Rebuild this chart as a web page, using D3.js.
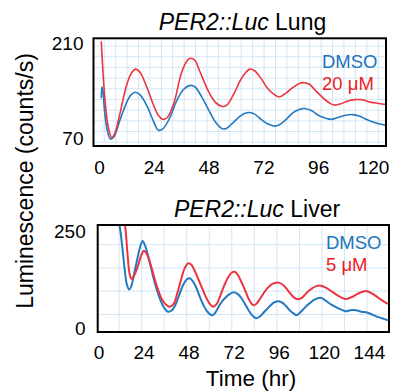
<!DOCTYPE html>
<html>
<head>
<meta charset="utf-8">
<script src="https://cdn.jsdelivr.net/npm/d3@7"></script>
<style>
  html, body { margin: 0; padding: 0; background: #fff; }
  svg { display: block; font-family: "Liberation Sans", Arial, sans-serif; }
</style>
</head>
<body>
<svg id="chart" width="395" height="392"></svg>
<script>
// ---------------- DATA ----------------
// Lung panel: [time (hr), luminescence (counts/s)]
const lungDMSO = [
  [1,129],[1.3,146],[1.8,137],[2.5,108],[3.5,84],[5,69],[6.5,72],[9,95],[12,122],[14,134],[16,138],
  [18,134],[21,118],[24,94],[26,82],[28,84],[31,100],[34,125],[37,142],[40,148],[42,146],[45,131],
  [48,112],[51,94],[54,84],[56,85],[59,94],[62,103],[64,107],[66,108],[68,106],[71,98],[74,91],
  [77,88],[79,90],[82,98],[85,108],[88,113],[90,114],[93,111],[96,104],[99,100],[102,98],[105,101],
  [108,104],[111,105],[114,103],[117,98],[120,94],[123,91],[125.7,89]
];
const lung20uM = [
  [1,213],[1.5,182],[2.5,132],[4,88],[5.6,71],[7,78],[9,104],[12,147],[14,165],[16,172],[18,167],
  [21,145],[24,118],[26,104],[28,98],[30,101],[33,124],[36,165],[38.5,184],[40,188],[42,185],[44,170],
  [48,139],[51,123],[54,117],[56,119],[59,135],[62,156],[64,166],[66,172],[68,170],[71,158],[74,143],
  [77,134],[79,131],[82,137],[85,145],[88,151],[90,152],[92,150],[95,140],[98,130],[101,122],[103,119],
  [106,121],[109,125],[112,127],[115,127],[118,124],[121,122],[124,120.5],[125.7,120]
];
// Liver panel
const liverDMSO = [
  [9,330],[10,300],[11,272],[12,238],[13,195],[14,150],[15,115],[16.3,99],[17.5,108],[19,140],[21,185],
  [22.5,214],[23.5,224],[25,210],[27,175],[29,135],[31,100],[33,72],[35,52],[37,42],[39,45],[41,60],
  [43,85],[45,110],[47,125],[48.5,128],[50,122],[52,105],[54,80],[56,58],[58,42],[60.5,33],[62,38],
  [64,55],[66,70],[68,80],[70,88],[72,92],[74,88],[76,78],[78,62],[80,45],[82,32],[84,25],[86,30],
  [88,40],[90,50],[92,60],[94,67],[96,69],[98,65],[100,56],[102,45],[104,37],[105.5,33],[107,38],
  [109,48],[111,58],[113,66],[115,73],[118,78],[120,74],[122,67],[124,60],[126,55],[128,50],[130,46],
  [132,43],[134,46],[137,46],[140,42],[143,40],[146,34],[149,28],[151,25],[153.5,21],[155,20]
];
const liver5uM = [
  [12.5,330],[13.5,290],[14.5,250],[15.5,190],[16.5,142],[17.5,127],[19,135],[21,160],[23,190],
  [24.2,199],[26,188],[28,160],[30,125],[32,95],[34,72],[36,60],[38,55],[40,62],[42,90],[44,125],
  [46,155],[47.8,167],[49.5,163],[51,150],[53,128],[55,105],[57,82],[59,64],[61,55],[63,62],[65,85],
  [67,110],[69,130],[71,143],[72.5,145],[74,138],[76,120],[78,98],[80,75],[82.4,59],[84,62],[86,75],
  [88,90],[90,103],[92,112],[94,116],[96,117],[98,112],[100,102],[102,90],[104,79],[106,74],[108,77],
  [110,86],[112,96],[114,103],[116,108],[118.5,109],[121,104],[124,95],[127,85],[130,77],[132,75],
  [135,80],[138,88],[141,94],[143,95],[146,88],[149,78],[152,68],[154,63],[155,61]
];

const lungXTicks = [0, 24, 48, 72, 96, 120];
const lungYTicks = [70, 210];
const liverXTicks = [0, 24, 48, 72, 96, 120, 144];
const liverYTicks = [0, 250];
// background grid positions (data units)
const lungGridX = d3.range(2.3, 126, 5);
const lungGridY = [206, 190.25, 174.5, 158.75, 143, 127.25, 111.5, 95.75, 80, 64.25];
const liverGridX = [11, 23, 35, 47, 59, 71, 83, 95, 107, 119, 131, 143];
const liverGridY = [35, 95, 155, 215];

const titles = [
  {italic: "PER2::Luc", plain: " Lung"},
  {italic: "PER2::Luc", plain: " Liver"}
];
const lungLegend = ["DMSO", "20 μM"];
const liverLegend = ["DMSO", "5 μM"];

// ---------------- STYLE ----------------
const blueLine = "#2479c1", redLine = "#ec3440";
const blueText = "#1c75bc", redText = "#ed1c24";
const gridColor = "#d3e6f4";

const svg = d3.select("#chart");

function panel(cfg) {
  const {id, box, xDomain, yDomain, xTicks, yTicks, gridX, gridY, series, legend, legendPos, title, titlePos} = cfg;
  const x = d3.scaleLinear().domain(xDomain).range([box.x0, box.x1]);
  const y = d3.scaleLinear().domain(yDomain).range([box.y1, box.y0]);

  svg.append("clipPath").attr("id", "clip-" + id)
    .append("rect").attr("x", box.x0).attr("y", box.y0)
    .attr("width", box.x1 - box.x0).attr("height", box.y1 - box.y0);

  const g = svg.append("g");
  const inner = g.append("g").attr("clip-path", `url(#clip-${id})`);

  inner.selectAll("line.gx").data(gridX).join("line")
    .attr("x1", d => x(d)).attr("x2", d => x(d))
    .attr("y1", box.y0).attr("y2", box.y1)
    .attr("stroke", gridColor).attr("stroke-width", 1);
  inner.selectAll("line.gy").data(gridY).join("line")
    .attr("y1", d => y(d)).attr("y2", d => y(d))
    .attr("x1", box.x0).attr("x2", box.x1)
    .attr("stroke", gridColor).attr("stroke-width", 1);

  const line = d3.line().x(d => x(d[0])).y(d => y(d[1])).curve(d3.curveCatmullRom.alpha(0.5));
  series.forEach(s => {
    inner.append("path").datum(s.data)
      .attr("fill", "none").attr("stroke", s.color)
      .attr("stroke-width", s.width).attr("stroke-linejoin", "round")
      .attr("d", line);
  });

  // frame
  g.append("rect").attr("x", box.x0).attr("y", box.y0)
    .attr("width", box.x1 - box.x0).attr("height", box.y1 - box.y0)
    .attr("fill", "none").attr("stroke", "#000").attr("stroke-width", 2);

  // axes (labels only)
  const xa = g.append("g").attr("transform", `translate(0,${box.y1})`)
    .call(d3.axisBottom(x).tickValues(xTicks).tickSize(0).tickPadding(cfg.xPad));
  xa.select(".domain").remove();
  xa.selectAll("text").attr("font-size", 19).attr("font-family", "Liberation Sans, Arial, sans-serif").attr("fill", "#000");

  const ya = g.append("g").attr("transform", `translate(${box.x0},0)`)
    .call(d3.axisLeft(y).tickValues(yTicks).tickSize(0).tickPadding(cfg.yPad));
  ya.select(".domain").remove();
  ya.selectAll("text").attr("font-size", 19).attr("font-family", "Liberation Sans, Arial, sans-serif").attr("fill", "#000");

  // legend
  legend.forEach((txt, i) => {
    g.append("text").attr("x", legendPos.x).attr("y", legendPos.y + i * legendPos.dy)
      .attr("font-size", 18.5).attr("fill", i === 0 ? blueText : redText).text(txt);
  });

  // title
  const t = g.append("text").attr("x", titlePos.x).attr("y", titlePos.y)
    .attr("text-anchor", "middle").attr("font-size", 23).attr("fill", "#000");
  t.append("tspan").attr("font-style", "italic").text(title.italic);
  t.append("tspan").text(title.plain);
}

panel({
  id: "lung",
  box: {x0: 93.5, x1: 386, y0: 38.3, y1: 146},
  xDomain: [-2.4, 125.7], yDomain: [58.7, 217.4],
  xTicks: lungXTicks, yTicks: lungYTicks,
  gridX: lungGridX, gridY: lungGridY,
  series: [
    {data: lungDMSO, color: blueLine, width: 1.6},
    {data: lung20uM, color: redLine, width: 1.6}
  ],
  legend: lungLegend, legendPos: {x: 322, y: 67.5, dy: 22},
  title: titles[0], titlePos: {x: 242.5, y: 30},
  xPad: 15, yPad: 10
});

panel({
  id: "liver",
  box: {x0: 97.7, x1: 389, y0: 225, y1: 332},
  xDomain: [-0.4, 154.7], yDomain: [-10.3, 265.5],
  xTicks: liverXTicks, yTicks: liverYTicks,
  gridX: liverGridX, gridY: liverGridY,
  series: [
    {data: liverDMSO, color: blueLine, width: 2},
    {data: liver5uM, color: redLine, width: 2}
  ],
  legend: liverLegend, legendPos: {x: 326, y: 248.5, dy: 22.5},
  title: titles[1], titlePos: {x: 257, y: 217},
  xPad: 14, yPad: 12
});

// axis titles
svg.append("text")
  .attr("transform", "translate(33,181) rotate(-90)")
  .attr("text-anchor", "middle").attr("font-size", 23).attr("fill", "#000")
  .text("Luminescence (counts/s)");
svg.append("text")
  .attr("x", 251).attr("y", 386)
  .attr("text-anchor", "middle").attr("font-size", 22.5).attr("fill", "#000")
  .text("Time (hr)");
</script>
</body>
</html>
